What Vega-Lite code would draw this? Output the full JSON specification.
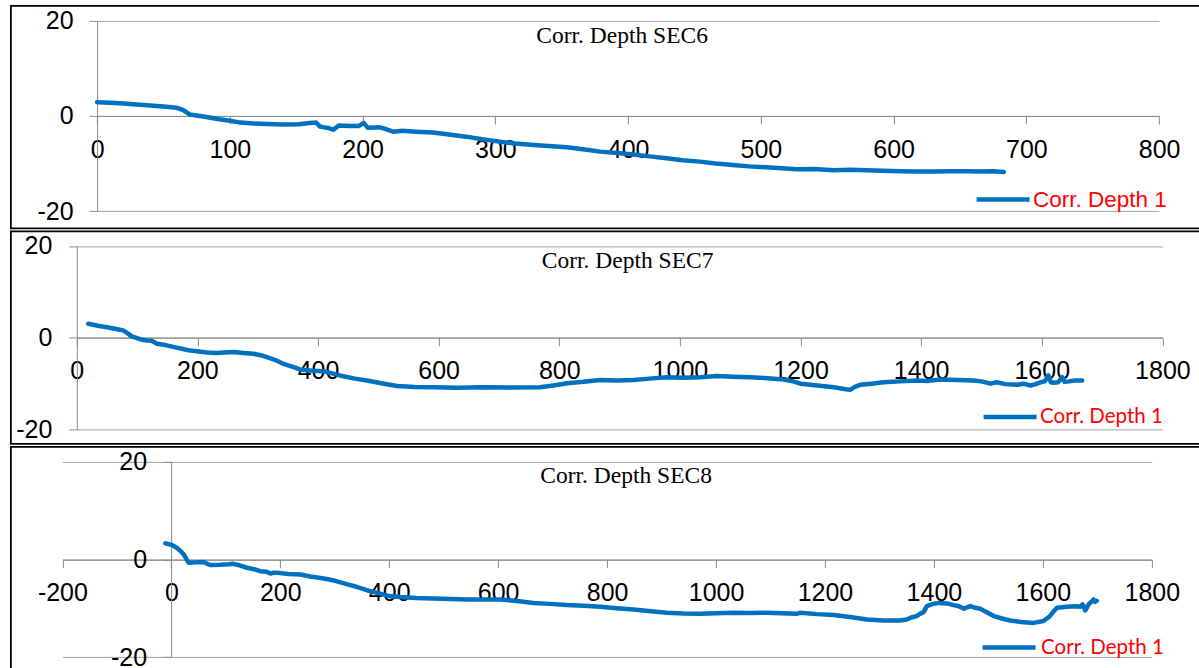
{
  "$schema": "https://vega.github.io/schema/vega-lite/v6.json",
  "background": "white",
  "padding": {"left": 9.9, "top": 4.9, "right": -18, "bottom": -19},
  "spacing": 2.5,
  "bounds": "flush",
  "resolve": {
    "scale": {"x": "independent", "y": "independent", "color": "independent"},
    "axis": {"x": "independent", "y": "independent"},
    "legend": {"color": "independent"}
  },
  "config": {
    "axis": {
      "title": null,
      "labelFont": "Liberation Sans",
      "labelFontSize": 25,
      "labelColor": "black",
      "labelExpr": "'' + datum.value",
      "tickSize": 8,
      "tickColor": "#8a8a8a",
      "domainColor": "#8a8a8a",
      "gridColor": "#a0a0a0",
      "labelOverlap": false,
      "labelFlush": false,
      "zindex": 1
    },
    "axisX": {"grid": false, "labelPadding": 14},
    "axisY": {"grid": true, "labelPadding": 16},
    "title": {
      "font": "Liberation Serif",
      "fontSize": 23.5,
      "fontWeight": "normal",
      "color": "black",
      "baseline": "alphabetic",
      "anchor": "middle",
      "frame": "group"
    },
    "legend": {
      "orient": "none",
      "title": null,
      "symbolType": "stroke",
      "symbolSize": 2809,
      "symbolStrokeWidth": 5,
      "labelColor": "#FF0000",
      "labelFontSize": 22.5,
      "labelOffset": 1,
      "labelLimit": 300,
      "padding": 0
    },
    "line": {"strokeWidth": 4.5, "strokeCap": "round", "strokeJoin": "round"}
  },
  "datasets": {
    "sec6": [
      {"distance": 0, "corr_depth": 2.9}, {"distance": 10, "corr_depth": 2.75}, {"distance": 20, "corr_depth": 2.6},
      {"distance": 30, "corr_depth": 2.4}, {"distance": 40, "corr_depth": 2.2}, {"distance": 50, "corr_depth": 2.0},
      {"distance": 60, "corr_depth": 1.7}, {"distance": 65, "corr_depth": 1.2}, {"distance": 70, "corr_depth": 0.3},
      {"distance": 80, "corr_depth": -0.1}, {"distance": 92, "corr_depth": -0.7}, {"distance": 100, "corr_depth": -1.0},
      {"distance": 108, "corr_depth": -1.4}, {"distance": 118, "corr_depth": -1.6}, {"distance": 128, "corr_depth": -1.7},
      {"distance": 140, "corr_depth": -1.8}, {"distance": 152, "corr_depth": -1.75}, {"distance": 160, "corr_depth": -1.5},
      {"distance": 165, "corr_depth": -1.4}, {"distance": 168, "corr_depth": -2.25}, {"distance": 175, "corr_depth": -2.6},
      {"distance": 178, "corr_depth": -2.9}, {"distance": 182, "corr_depth": -2.0}, {"distance": 190, "corr_depth": -2.1},
      {"distance": 197, "corr_depth": -2.1}, {"distance": 201, "corr_depth": -1.5}, {"distance": 204, "corr_depth": -2.5},
      {"distance": 213, "corr_depth": -2.4}, {"distance": 218, "corr_depth": -2.8}, {"distance": 223, "corr_depth": -3.3},
      {"distance": 230, "corr_depth": -3.1}, {"distance": 240, "corr_depth": -3.3}, {"distance": 253, "corr_depth": -3.5},
      {"distance": 265, "corr_depth": -3.9}, {"distance": 278, "corr_depth": -4.35}, {"distance": 290, "corr_depth": -4.9},
      {"distance": 303, "corr_depth": -5.4}, {"distance": 315, "corr_depth": -5.8}, {"distance": 329, "corr_depth": -6.1},
      {"distance": 340, "corr_depth": -6.3}, {"distance": 354, "corr_depth": -6.6}, {"distance": 366, "corr_depth": -7.0},
      {"distance": 379, "corr_depth": -7.5}, {"distance": 392, "corr_depth": -7.8}, {"distance": 404, "corr_depth": -8.1},
      {"distance": 416, "corr_depth": -8.5}, {"distance": 429, "corr_depth": -8.9}, {"distance": 441, "corr_depth": -9.3},
      {"distance": 454, "corr_depth": -9.6}, {"distance": 466, "corr_depth": -10.0}, {"distance": 479, "corr_depth": -10.3},
      {"distance": 491, "corr_depth": -10.6}, {"distance": 504, "corr_depth": -10.8}, {"distance": 516, "corr_depth": -11.0},
      {"distance": 527, "corr_depth": -11.2}, {"distance": 540, "corr_depth": -11.15}, {"distance": 555, "corr_depth": -11.4},
      {"distance": 567, "corr_depth": -11.3}, {"distance": 580, "corr_depth": -11.4}, {"distance": 592, "corr_depth": -11.5},
      {"distance": 605, "corr_depth": -11.6}, {"distance": 617, "corr_depth": -11.7}, {"distance": 630, "corr_depth": -11.7},
      {"distance": 642, "corr_depth": -11.6}, {"distance": 655, "corr_depth": -11.65}, {"distance": 665, "corr_depth": -11.7},
      {"distance": 675, "corr_depth": -11.6}, {"distance": 683, "corr_depth": -11.8}
    ],
    "sec7": [
      {"distance": 19, "corr_depth": 3.05}, {"distance": 35, "corr_depth": 2.6}, {"distance": 50, "corr_depth": 2.3},
      {"distance": 65, "corr_depth": 1.9}, {"distance": 77, "corr_depth": 1.6}, {"distance": 85, "corr_depth": 0.9},
      {"distance": 91, "corr_depth": 0.3}, {"distance": 100, "corr_depth": -0.1}, {"distance": 110, "corr_depth": -0.5},
      {"distance": 116, "corr_depth": -0.6}, {"distance": 124, "corr_depth": -0.66}, {"distance": 133, "corr_depth": -1.3},
      {"distance": 147, "corr_depth": -1.6}, {"distance": 160, "corr_depth": -2.0}, {"distance": 174, "corr_depth": -2.4},
      {"distance": 188, "corr_depth": -2.8}, {"distance": 202, "corr_depth": -3.0}, {"distance": 216, "corr_depth": -3.2},
      {"distance": 230, "corr_depth": -3.3}, {"distance": 245, "corr_depth": -3.2}, {"distance": 260, "corr_depth": -3.1},
      {"distance": 276, "corr_depth": -3.3}, {"distance": 293, "corr_depth": -3.5}, {"distance": 305, "corr_depth": -3.8},
      {"distance": 315, "corr_depth": -4.2}, {"distance": 330, "corr_depth": -4.9}, {"distance": 343, "corr_depth": -5.7},
      {"distance": 357, "corr_depth": -6.3}, {"distance": 370, "corr_depth": -6.9}, {"distance": 390, "corr_depth": -7.2},
      {"distance": 409, "corr_depth": -7.3}, {"distance": 425, "corr_depth": -7.8}, {"distance": 442, "corr_depth": -8.4},
      {"distance": 461, "corr_depth": -8.9}, {"distance": 481, "corr_depth": -9.3}, {"distance": 505, "corr_depth": -9.9},
      {"distance": 531, "corr_depth": -10.5}, {"distance": 560, "corr_depth": -10.7}, {"distance": 591, "corr_depth": -10.8},
      {"distance": 630, "corr_depth": -10.9}, {"distance": 674, "corr_depth": -10.8}, {"distance": 720, "corr_depth": -10.85},
      {"distance": 768, "corr_depth": -10.8}, {"distance": 790, "corr_depth": -10.4}, {"distance": 813, "corr_depth": -9.9},
      {"distance": 840, "corr_depth": -9.6}, {"distance": 868, "corr_depth": -9.2}, {"distance": 895, "corr_depth": -9.3},
      {"distance": 923, "corr_depth": -9.2}, {"distance": 950, "corr_depth": -8.9}, {"distance": 978, "corr_depth": -8.6},
      {"distance": 1005, "corr_depth": -8.7}, {"distance": 1034, "corr_depth": -8.6}, {"distance": 1061, "corr_depth": -8.35},
      {"distance": 1088, "corr_depth": -8.5}, {"distance": 1117, "corr_depth": -8.6}, {"distance": 1145, "corr_depth": -8.8},
      {"distance": 1172, "corr_depth": -9.1}, {"distance": 1185, "corr_depth": -9.4}, {"distance": 1200, "corr_depth": -10.0},
      {"distance": 1228, "corr_depth": -10.4}, {"distance": 1255, "corr_depth": -10.8}, {"distance": 1270, "corr_depth": -11.1},
      {"distance": 1282, "corr_depth": -11.35}, {"distance": 1290, "corr_depth": -10.7}, {"distance": 1299, "corr_depth": -10.25},
      {"distance": 1318, "corr_depth": -10.0}, {"distance": 1338, "corr_depth": -9.7}, {"distance": 1365, "corr_depth": -9.5},
      {"distance": 1393, "corr_depth": -9.3}, {"distance": 1410, "corr_depth": -9.4}, {"distance": 1431, "corr_depth": -9.1},
      {"distance": 1460, "corr_depth": -9.2}, {"distance": 1487, "corr_depth": -9.3}, {"distance": 1500, "corr_depth": -9.5},
      {"distance": 1515, "corr_depth": -10.0}, {"distance": 1525, "corr_depth": -9.7}, {"distance": 1540, "corr_depth": -10.1},
      {"distance": 1559, "corr_depth": -10.25}, {"distance": 1570, "corr_depth": -10.0}, {"distance": 1581, "corr_depth": -10.4},
      {"distance": 1590, "corr_depth": -10.1}, {"distance": 1598, "corr_depth": -9.7}, {"distance": 1605, "corr_depth": -9.5},
      {"distance": 1611, "corr_depth": -8.2}, {"distance": 1615, "corr_depth": -9.7}, {"distance": 1620, "corr_depth": -9.8},
      {"distance": 1627, "corr_depth": -9.7}, {"distance": 1634, "corr_depth": -8.6}, {"distance": 1638, "corr_depth": -9.6},
      {"distance": 1645, "corr_depth": -9.5}, {"distance": 1655, "corr_depth": -9.3}, {"distance": 1667, "corr_depth": -9.3}
    ],
    "sec8": [
      {"distance": -11, "corr_depth": 3.3}, {"distance": 0, "corr_depth": 3.0}, {"distance": 10, "corr_depth": 2.4},
      {"distance": 18, "corr_depth": 1.6}, {"distance": 23, "corr_depth": 1.0}, {"distance": 28, "corr_depth": 0.0},
      {"distance": 32, "corr_depth": -0.7}, {"distance": 45, "corr_depth": -0.6}, {"distance": 59, "corr_depth": -0.5},
      {"distance": 66, "corr_depth": -0.9}, {"distance": 72, "corr_depth": -1.15}, {"distance": 90, "corr_depth": -1.1},
      {"distance": 105, "corr_depth": -1.0}, {"distance": 114, "corr_depth": -0.9}, {"distance": 125, "corr_depth": -1.2},
      {"distance": 139, "corr_depth": -1.7}, {"distance": 152, "corr_depth": -2.0}, {"distance": 163, "corr_depth": -2.4},
      {"distance": 175, "corr_depth": -2.5}, {"distance": 182, "corr_depth": -2.9}, {"distance": 188, "corr_depth": -2.7},
      {"distance": 200, "corr_depth": -2.8}, {"distance": 215, "corr_depth": -3.0}, {"distance": 237, "corr_depth": -3.1},
      {"distance": 255, "corr_depth": -3.5}, {"distance": 274, "corr_depth": -3.8}, {"distance": 290, "corr_depth": -4.1},
      {"distance": 298, "corr_depth": -4.3}, {"distance": 320, "corr_depth": -5.0}, {"distance": 340, "corr_depth": -5.6},
      {"distance": 359, "corr_depth": -6.3}, {"distance": 380, "corr_depth": -6.9}, {"distance": 400, "corr_depth": -7.5},
      {"distance": 420, "corr_depth": -7.7}, {"distance": 450, "corr_depth": -7.9}, {"distance": 481, "corr_depth": -8.0},
      {"distance": 512, "corr_depth": -8.1}, {"distance": 543, "corr_depth": -8.2}, {"distance": 575, "corr_depth": -8.2},
      {"distance": 604, "corr_depth": -8.2}, {"distance": 635, "corr_depth": -8.5}, {"distance": 665, "corr_depth": -8.9},
      {"distance": 695, "corr_depth": -9.1}, {"distance": 726, "corr_depth": -9.35}, {"distance": 757, "corr_depth": -9.5},
      {"distance": 788, "corr_depth": -9.7}, {"distance": 818, "corr_depth": -10.0}, {"distance": 849, "corr_depth": -10.25},
      {"distance": 880, "corr_depth": -10.6}, {"distance": 910, "corr_depth": -10.9}, {"distance": 940, "corr_depth": -11.05},
      {"distance": 971, "corr_depth": -11.1}, {"distance": 1000, "corr_depth": -11.0}, {"distance": 1032, "corr_depth": -10.9},
      {"distance": 1062, "corr_depth": -10.95}, {"distance": 1094, "corr_depth": -10.9}, {"distance": 1120, "corr_depth": -11.0},
      {"distance": 1149, "corr_depth": -11.1}, {"distance": 1155, "corr_depth": -10.9}, {"distance": 1185, "corr_depth": -11.2},
      {"distance": 1216, "corr_depth": -11.4}, {"distance": 1246, "corr_depth": -11.8}, {"distance": 1277, "corr_depth": -12.3},
      {"distance": 1307, "corr_depth": -12.5}, {"distance": 1338, "corr_depth": -12.5}, {"distance": 1350, "corr_depth": -12.3},
      {"distance": 1357, "corr_depth": -11.95}, {"distance": 1368, "corr_depth": -11.6}, {"distance": 1375, "corr_depth": -11.1},
      {"distance": 1381, "corr_depth": -10.8}, {"distance": 1387, "corr_depth": -9.55}, {"distance": 1398, "corr_depth": -9.1},
      {"distance": 1411, "corr_depth": -8.9}, {"distance": 1424, "corr_depth": -9.0}, {"distance": 1436, "corr_depth": -9.35},
      {"distance": 1446, "corr_depth": -9.6}, {"distance": 1455, "corr_depth": -10.1}, {"distance": 1461, "corr_depth": -9.8},
      {"distance": 1467, "corr_depth": -9.55}, {"distance": 1476, "corr_depth": -9.9}, {"distance": 1485, "corr_depth": -10.1},
      {"distance": 1497, "corr_depth": -10.8}, {"distance": 1510, "corr_depth": -11.6}, {"distance": 1525, "corr_depth": -12.1},
      {"distance": 1540, "corr_depth": -12.5}, {"distance": 1560, "corr_depth": -12.8}, {"distance": 1583, "corr_depth": -13.0},
      {"distance": 1601, "corr_depth": -12.6}, {"distance": 1612, "corr_depth": -11.7}, {"distance": 1620, "corr_depth": -10.6},
      {"distance": 1626, "corr_depth": -9.9}, {"distance": 1644, "corr_depth": -9.7}, {"distance": 1660, "corr_depth": -9.6},
      {"distance": 1669, "corr_depth": -9.7}, {"distance": 1673, "corr_depth": -9.2}, {"distance": 1678, "corr_depth": -10.45},
      {"distance": 1684, "corr_depth": -9.2}, {"distance": 1690, "corr_depth": -8.6}, {"distance": 1693, "corr_depth": -8.2},
      {"distance": 1696, "corr_depth": -8.7}, {"distance": 1699, "corr_depth": -8.5}
    ]
  },
  "vconcat": [
    {
      "data": {"name": "sec6"},
      "width": 1205,
      "height": 222.5,
      "view": {"stroke": "black", "strokeWidth": 1.8},
      "title": {"text": "Corr. Depth SEC6", "offset": -42, "dx": 8.7},
      "mark": {"type": "line"},
      "encoding": {
        "x": {
          "field": "distance", "type": "quantitative",
          "scale": {"domain": [0, 800], "range": [86.2, 1148.2], "nice": false, "zero": false},
          "axis": {"values": [0, 100, 200, 300, 400, 500, 600, 700, 800], "offset": -112.45, "labelPadding": 14}
        },
        "y": {
          "field": "corr_depth", "type": "quantitative",
          "scale": {"domain": [-20, 20], "range": [205.2, 14.9], "nice": false, "zero": false},
          "axis": {"values": [-20, 0, 20], "offset": -86.2}
        },
        "color": {
          "datum": "Corr. Depth 1",
          "scale": {"range": ["#0070C0"]},
          "legend": {"legendX": 963.2, "legendY": 164.7, "labelFont": "Liberation Sans"}
        }
      }
    },
    {
      "data": {"name": "sec7"},
      "width": 1205,
      "height": 212.5,
      "view": {"stroke": "black", "strokeWidth": 1.8},
      "title": {"text": "Corr. Depth SEC7", "offset": -41, "dx": 14.2},
      "mark": {"type": "line"},
      "encoding": {
        "x": {
          "field": "distance", "type": "quantitative",
          "scale": {"domain": [0, 1800], "range": [65.9, 1151.5], "nice": false, "zero": false},
          "axis": {"values": [0, 200, 400, 600, 800, 1000, 1200, 1400, 1600, 1800], "offset": -106.15, "labelPadding": 12.6}
        },
        "y": {
          "field": "corr_depth", "type": "quantitative",
          "scale": {"domain": [-20, 20], "range": [198.2, 14.5], "nice": false, "zero": false},
          "axis": {"values": [-20, 0, 20], "offset": -65.9, "labelPadding": 17}
        },
        "color": {
          "datum": "Corr. Depth 1",
          "scale": {"range": ["#0070C0"]},
          "legend": {"legendX": 970.2, "legendY": 156.7, "labelFont": "Lato", "labelFontSize": 20.5}
        }
      }
    },
    {
      "data": {"name": "sec8"},
      "width": 1205,
      "height": 240,
      "view": {"stroke": "black", "strokeWidth": 1.8},
      "title": {"text": "Corr. Depth SEC8", "offset": -41, "dx": 12.7},
      "mark": {"type": "line"},
      "encoding": {
        "x": {
          "field": "distance", "type": "quantitative",
          "scale": {"domain": [-200, 1800], "range": [51.5, 1140.9], "nice": false, "zero": false},
          "axis": {"values": [-200, 0, 200, 400, 600, 800, 1000, 1200, 1400, 1600, 1800], "offset": -127.45, "labelPadding": 13.3}
        },
        "y": {
          "field": "corr_depth", "type": "quantitative",
          "scale": {"domain": [-20, 20], "range": [210.2, 14.9], "nice": false, "zero": false},
          "axis": {"values": [-20, 0, 20], "offset": -160.2, "labelPadding": 16.5}
        },
        "color": {
          "datum": "Corr. Depth 1",
          "scale": {"range": ["#0070C0"]},
          "legend": {"legendX": 969.2, "legendY": 171.7, "labelFont": "Lato", "labelFontSize": 20.5, "labelOffset": 3}
        }
      }
    }
  ]
}
